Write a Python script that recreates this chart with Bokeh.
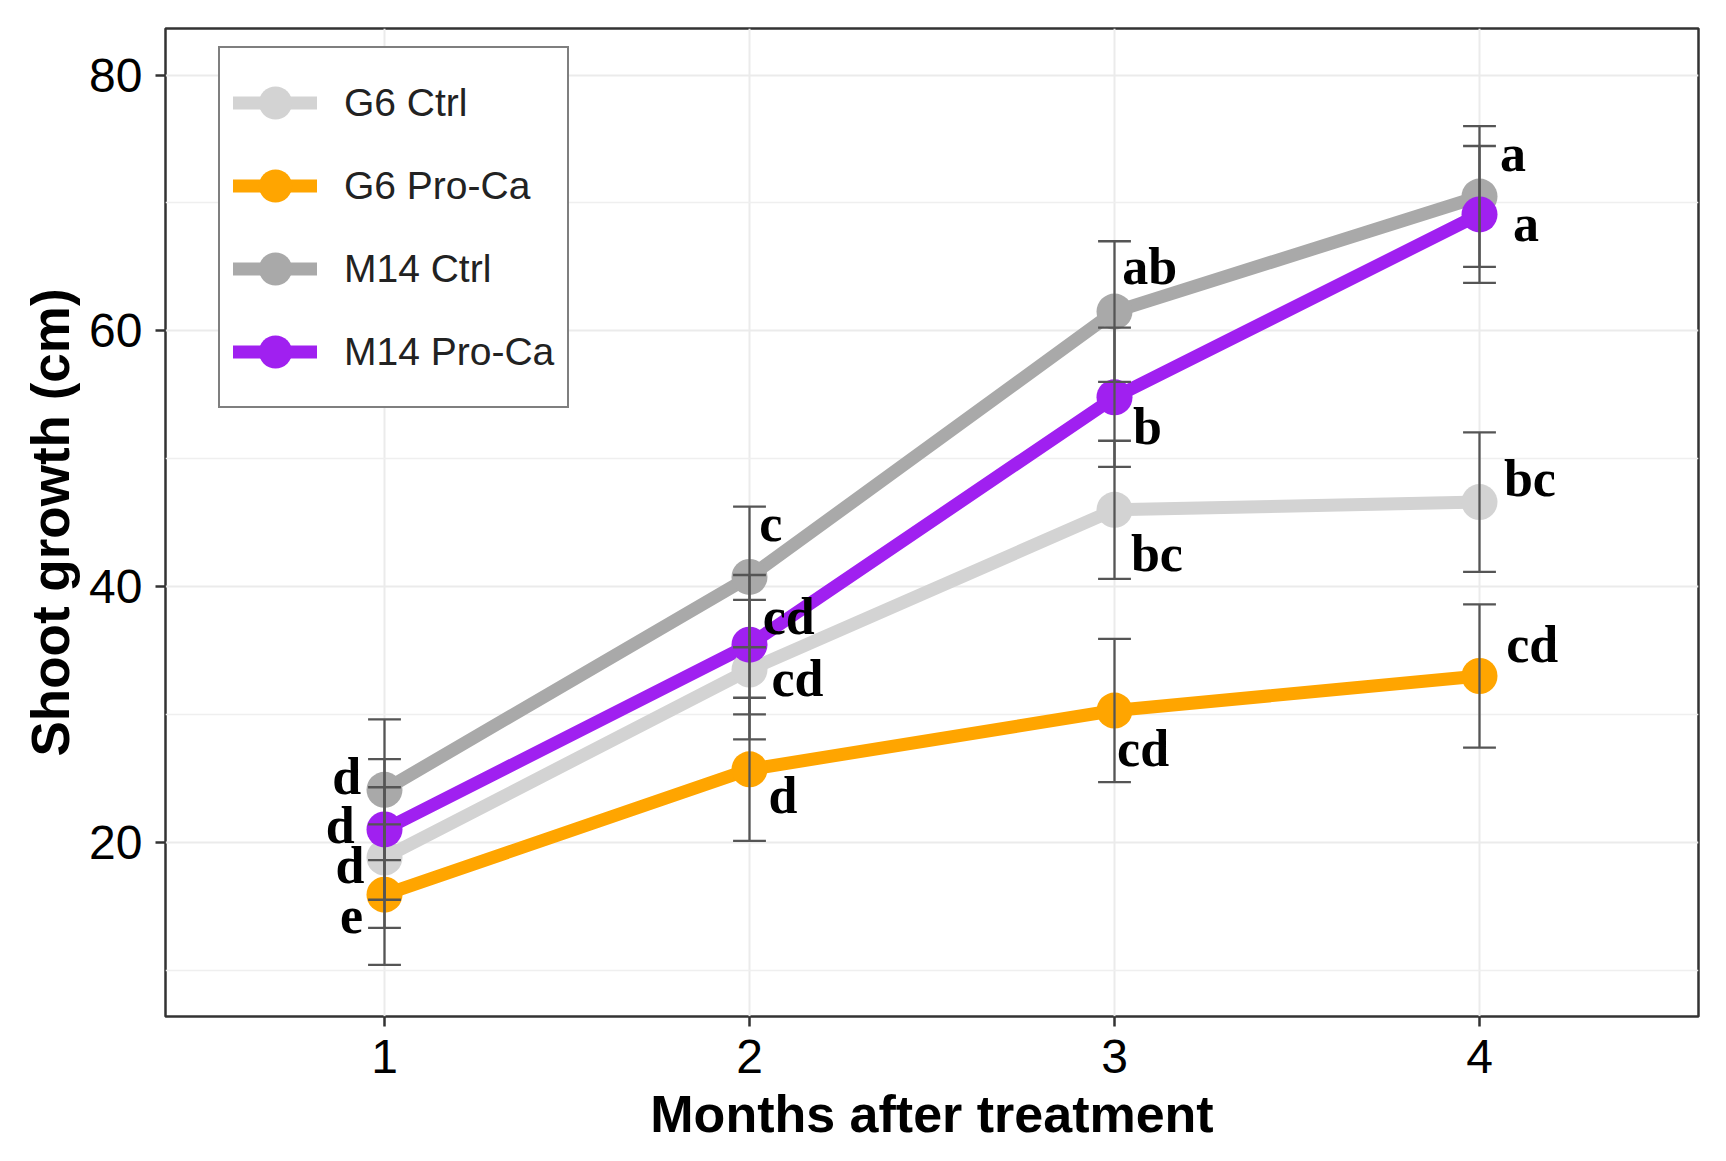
from bokeh.plotting import figure
from bokeh.models import Range1d, FixedTicker, ColumnDataSource, Legend, LegendItem
from bokeh.embed import file_html
from bokeh.resources import INLINE
from bokeh.core.properties import value

# ---------------- data ----------------
months = [1, 2, 3, 4]
tick_labels = ["1", "2", "3", "4"]
series_names = ["G6 Ctrl", "G6 Pro-Ca", "M14 Ctrl", "M14 Pro-Ca"]

g6_ctrl = [18.8, 33.5, 46.0, 46.6]
g6_ctrl_se = [5.5, 5.45, 5.4, 5.45]
g6_proca = [15.9, 25.7, 30.3, 33.0]
g6_proca_se = [5.5, 5.6, 5.6, 5.6]
m14_ctrl = [24.1, 40.75, 61.5, 70.5]
m14_ctrl_se = [5.5, 5.5, 5.5, 5.5]
m14_proca = [21.0, 35.45, 54.8, 69.1]
m14_proca_se = [5.5, 5.45, 5.45, 5.35]

letters_g6_ctrl = ["d", "cd", "bc", "bc"]
letters_g6_proca = ["e", "d", "cd", "cd"]
letters_m14_ctrl = ["d", "c", "ab", "a"]
letters_m14_proca = ["d", "cd", "b", "a"]

# ---------------- layout / style ----------------
colors = ["#D3D3D3", "#FFA500", "#A9A9A9", "#A020F0"]
values = [g6_ctrl, g6_proca, m14_ctrl, m14_proca]
ses = [g6_ctrl_se, g6_proca_se, m14_ctrl_se, m14_proca_se]
letters = [letters_g6_ctrl, letters_g6_proca, letters_m14_ctrl, letters_m14_proca]

# placement of significance letters (x offset in axis units, baseline y in axis units)
label_dx = [
    [-0.055, 0.060, 0.045, 0.067],
    [-0.059, 0.052, 0.007, 0.073],
    [-0.064, 0.027, 0.021, 0.056],
    [-0.082, 0.036, 0.051, 0.092],
]
label_y = [
    [16.96, 31.63, 41.41, 47.28],
    [13.03, 22.42, 26.13, 34.25],
    [23.96, 43.72, 63.85, 72.65],
    [20.08, 36.44, 51.33, 67.20],
]
label_lift = 1.2
cap_half = 0.045
x_lo, x_hi = 0.4, 4.6
y_lo, y_hi = 6.37, 83.64

p = figure(width=1710, height=1145, output_backend="svg", toolbar_location=None,
           x_range=Range1d(x_lo, x_hi), y_range=Range1d(y_lo, y_hi),
           min_border_left=165, min_border_right=12, min_border_top=28, min_border_bottom=126)
p.background_fill_color = "white"
p.border_fill_color = "white"
p.outline_line_color = "#333333"
p.outline_line_width = 2.5

# axes
p.xaxis.ticker = FixedTicker(ticks=months)
p.xaxis.major_label_overrides = {m: t for m, t in zip(months, tick_labels)}
p.yaxis.ticker = FixedTicker(ticks=[20, 40, 60, 80], minor_ticks=[10, 30, 50, 70])
for ax in (p.xaxis[0], p.yaxis[0]):
    ax.axis_line_color = None
    ax.major_tick_line_color = "#333333"
    ax.major_tick_line_width = 2.5
    ax.major_tick_in = 0
    ax.major_tick_out = 10
    ax.minor_tick_line_color = None
    ax.major_label_text_font = "Liberation Sans"
    ax.major_label_text_font_size = "48px"
    ax.major_label_text_color = "black"
    ax.axis_label_text_font = "Liberation Sans"
    ax.axis_label_text_font_size = "52px"
    ax.axis_label_text_font_style = "bold"
    ax.axis_label_text_color = "black"
p.xaxis.axis_label = "Months after treatment"
p.yaxis.axis_label = "Shoot growth (cm)"
p.yaxis.axis_label_text_font_size = "53px"
p.xaxis.major_label_standoff = 13
p.xaxis.axis_label_standoff = 9
p.yaxis.major_label_standoff = 13
p.yaxis.axis_label_standoff = 6

# grid
p.xgrid.grid_line_color = "#EBEBEB"
p.xgrid.grid_line_width = 2
p.ygrid.grid_line_color = "#EBEBEB"
p.ygrid.grid_line_width = 2.2
p.ygrid.minor_grid_line_color = "#EFEFEF"
p.ygrid.minor_grid_line_width = 1.6

# lines
line_rs = []
for vals, col in zip(values, colors):
    line_rs.append(p.line(months, vals, line_width=13, line_color=col,
                          line_join="round", line_cap="round"))
# points
pt_rs = []
for vals, col in zip(values, colors):
    pt_rs.append(p.scatter(months, vals, marker="circle", size=36,
                           fill_color=col, line_color=None))
# error bars
for vals, se in zip(values, ses):
    lo = [v - s for v, s in zip(vals, se)]
    hi = [v + s for v, s in zip(vals, se)]
    src = ColumnDataSource(dict(x=months, lo=lo, hi=hi,
                                xl=[m - cap_half for m in months],
                                xr=[m + cap_half for m in months]))
    p.segment(x0="x", y0="lo", x1="x", y1="hi", source=src, line_color="#555555", line_width=2.3)
    p.segment(x0="xl", y0="lo", x1="xr", y1="lo", source=src, line_color="#555555", line_width=2.3)
    p.segment(x0="xl", y0="hi", x1="xr", y1="hi", source=src, line_color="#555555", line_width=2.3)

# significance letters
for let, dxs, ys in zip(letters, label_dx, label_y):
    xs = [m + d for m, d in zip(months, dxs)]
    ys = [y + label_lift for y in ys]
    p.text(x=xs[:1], y=ys[:1], text=let[:1], text_align="right", text_baseline="alphabetic",
           text_font=value("Liberation Serif"), text_font_style="bold",
           text_font_size="52px", text_color="black")
    p.text(x=xs[1:], y=ys[1:], text=let[1:], text_align="left", text_baseline="alphabetic",
           text_font=value("Liberation Serif"), text_font_style="bold",
           text_font_size="52px", text_color="black")

legend = Legend(items=[LegendItem(label=n, renderers=[l, s])
                       for n, l, s in zip(series_names, line_rs, pt_rs)],
                location=(53, 608), glyph_width=84, glyph_height=83, spacing=0,
                padding=13, margin=0, label_standoff=27,
                label_text_font="Liberation Sans", label_text_font_size="39px",
                label_text_color="#222222",
                border_line_color="black", border_line_width=2,
                background_fill_color="white", background_fill_alpha=1)
p.add_layout(legend)

open("out.html", "w").write(file_html(p, INLINE))
